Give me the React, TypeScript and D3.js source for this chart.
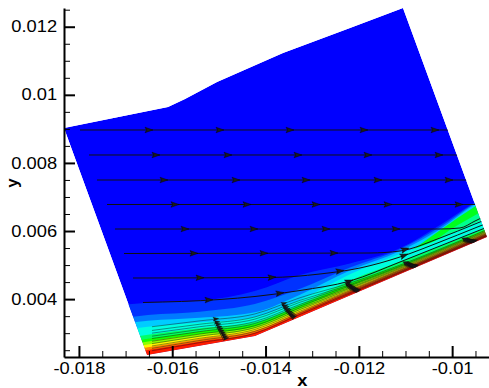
import React, { useEffect, useRef } from 'react';
import * as d3 from 'd3';

// axes
const xDomain = [-0.01832, -0.00921];
const yDomain = [0.0023, 0.01255];
const xMajorTicks = [-0.018, -0.016, -0.014, -0.012, -0.01];
const xTickLabels = ['-0.018', '-0.016', '-0.014', '-0.012', '-0.01'];
const yMajorTicks = [0.004, 0.006, 0.008, 0.01, 0.012];
const yTickLabels = ['0.004', '0.006', '0.008', '0.01', '0.012'];

// outline of the computed zone (top edge, right edge, wall, left edge)
const outlineX = [-0.01832, -0.016091, -0.015726, -0.01504, -0.013626, -0.01219, -0.011054, -0.009253, -0.014226, -0.01654];
const outlineY = [0.009026, 0.009643, 0.009877, 0.010377, 0.011228, 0.011963, 0.01255, 0.005824, 0.002917, 0.00236];

// wall
const wallX = [-0.01654, -0.014226, -0.009253];
const wallY = [0.00236, 0.002917, 0.005824];

// stations along the wall where the contour layers are read
const stationX = [-0.01733, -0.01652, -0.01541, -0.01423, -0.01326, -0.01219, -0.01112, -0.01026, -0.00951, -0.00897];

// contour level (0..1) and its height above the wall at each station, painted in order
const bandLevels = [0.05, 0.12, 0.2, 0.47, 0.36, 0.28, 0.4, 0.52, 0.64, 0.76, 0.87, 0.97];
const bandOffsets = [
  [0.00162, 0.00153, 0.00132, 0.00132, 0.00123, 0.00094, 0.00076, 0.00094, 0.00117, 0.00129],
  [0.00123, 0.00117, 0.001, 0.00094, 0.00082, 0.00082, 0.00073, 0.00088, 0.00115, 0.00126],
  [0.00106, 0.001, 0.00082, 0.0007, 0.00065, 0.00073, 0.00068, 0.00082, 0.00112, 0.00123],
  [0, 0, 0, 0, 0, 0, 0.00045, 0.00079, 0.00105, 0.00118],
  [0, 0, 0, 0, 0, 0, 0, 0.00059, 0.00079, 0.00088],
  [0.00088, 0.00082, 0.00068, 0.00056, 0.0005, 0.00062, 0.00059, 0.00053, 0.00056, 0.00056],
  [0.00062, 0.00059, 0.00051, 0.00041, 0.00037, 0.00044, 0.00037, 0.00032, 0.00029, 0.00029],
  [0.00048, 0.00047, 0.00042, 0.00035, 0.00032, 0.00035, 0.00027, 0.00024, 0.00024, 0.00024],
  [0.0004, 0.00039, 0.00034, 0.00028, 0.00026, 0.00027, 0.00022, 0.0002, 0.0002, 0.0002],
  [0.00031, 0.0003, 0.00027, 0.00022, 0.0002, 0.0002, 0.00017, 0.00016, 0.00016, 0.00016],
  [0.00023, 0.00022, 0.0002, 0.00016, 0.00015, 0.00015, 0.00013, 0.00012, 0.00012, 0.00012],
  [0.00014, 0.00014, 0.00012, 0.0001, 0.0001, 0.0001, 0.00008, 0.00008, 0.00008, 0.00008],
];

// straight streamlines in the free stream
const streamY = [0.008967, 0.008233, 0.007498, 0.006779];
const streamStartX = [-0.017977, -0.017784, -0.017613, -0.017398];
const streamArrowX = [
  [-0.016434, -0.014912, -0.013411, -0.011825, -0.010303],
  [-0.016284, -0.01474, -0.01324, -0.01174, -0.010218],
  [-0.016112, -0.014569, -0.013068, -0.011525, -0.010003],
  [-0.015876, -0.014333, -0.012854, -0.011311, -0.009789],
];

// streamlines that bend up over the ramp
const bentX = [
  [-0.017227, -0.01026, -0.009832, -0.00951, -0.008974],
  [-0.017034, -0.011761, -0.011118, -0.01026, -0.00951, -0.008974],
  [-0.016841, -0.013904, -0.012833, -0.011975, -0.011118, -0.01026, -0.00951, -0.008974],
  [-0.016627, -0.014976, -0.014226, -0.013261, -0.01219, -0.011118, -0.01026, -0.00951, -0.008974],
];
const bentY = [
  [0.006059, 0.006059, 0.006089, 0.006294, 0.006647],
  [0.00534, 0.005354, 0.005413, 0.005795, 0.006206, 0.0065],
  [0.00462, 0.004635, 0.004738, 0.004914, 0.005237, 0.005678, 0.006089, 0.006382],
  [0.003901, 0.003989, 0.004077, 0.004253, 0.004532, 0.00509, 0.00556, 0.005971, 0.006265],
];
const bentArrowX = [
  [-0.015662, -0.014183, -0.01264, -0.011139],
  [-0.015469, -0.013969, -0.012468, -0.010946],
  [-0.01534, -0.013797, -0.01234, -0.010967],
  [-0.015148, -0.013626, -0.012147],
];

// boundary-layer streamlines hugging the wall
const bundleStartX = -0.016434;
const bundleOffsets = [0.0001, 0.00017, 0.00024, 0.00031, 0.00038, 0.00046, 0.00053, 0.00062, 0.0007, 0.00081];
const bundleScale = [1, 1, 0.9, 0.8, 0.69, 0.45, 0.33, 0.29, 0.27, 0.27];
const bundleArrowX = [-0.015019, -0.013561, -0.01219, -0.010946, -0.009682];

const FONT = "'Liberation Sans', Arial, Helvetica, sans-serif";
const STRETCH = 'scale(1.145,1)';

const App = () => {
  const svgRef = useRef<SVGSVGElement>(null);

  useEffect(() => {
    const svg = d3.select(svgRef.current);
    svg.selectAll('*').remove();

    const x = d3.scaleLinear().domain(xDomain).range([64, 489]);
    const y = d3.scaleLinear().domain(yDomain).range([357, 8]);
    const wall = d3.scaleLinear().domain(wallX).range(wallY);
    const colour = d3.scaleLinear<string>()
      .domain([0, 0.25, 0.5, 0.75, 1])
      .range(['#0000ff', '#00ffff', '#00ff00', '#ffff00', '#ff0000']);

    const outline = d3.line<number>()
      .x(i => x(outlineX[i]))
      .y(i => y(outlineY[i]))(outlineX.map((_, i) => i)) + 'Z';

    const defs = svg.append('defs');
    defs.append('clipPath').attr('id', 'flow-clip')
      .append('path').attr('d', outline);
    defs.append('filter').attr('id', 'soft')
      .append('feGaussianBlur').attr('stdDeviation', 0.4);

    const flow = svg.append('g').attr('clip-path', 'url(#flow-clip)');
    flow.append('path').attr('d', outline).attr('fill', '#0000ff');

    // contour bands
    const bands = flow.append('g').attr('filter', 'url(#soft)');
    bandLevels.forEach((lev, k) => {
      const pts = stationX.map((sx, i) => ({ sx, off: bandOffsets[k][i] }));
      const area = d3.area<{ sx: number; off: number }>()
        .curve(d3.curveMonotoneX)
        .x(d => x(d.sx))
        .y0(d => y(wall(d.sx) - 0.0006))
        .y1(d => y(wall(d.sx) + d.off));
      bands.append('path').attr('d', area(pts)).attr('fill', colour(lev));
    });

    // streamlines
    const lines = flow.append('g').attr('fill', 'none').attr('stroke', '#111').attr('stroke-width', 1);
    const arrows = flow.append('g').attr('fill', '#1a1a1a').attr('stroke', '#000').attr('stroke-width', 0.4);
    const line = d3.line<[number, number]>().curve(d3.curveMonotoneX)
      .x(d => x(d[0])).y(d => y(d[1]));

    const arrow = (xv: number, fy: (v: number) => number, size = 1) => {
      const px = x(xv), py = y(fy(xv));
      const qx = x(xv + 2e-5), qy = y(fy(xv + 2e-5));
      const a = Math.atan2(qy - py, qx - px) * 180 / Math.PI;
      arrows.append('path')
        .attr('d', 'M-7,-2.8L1,0L-7,2.8L-5.5,0Z')
        .attr('transform', `translate(${px},${py}) rotate(${a}) scale(${size})`);
    };

    streamY.forEach((yv, i) => {
      lines.append('path').attr('d', line([[streamStartX[i], yv], [xDomain[1] + 0.001, yv]]));
      streamArrowX[i].forEach(ax => arrow(ax, () => yv));
    });

    bentX.forEach((xs, i) => {
      const pts = xs.map((xv, j) => [xv, bentY[i][j]] as [number, number]);
      lines.append('path').attr('d', line(pts));
      const fy = d3.scaleLinear().domain(xs).range(bentY[i]);
      bentArrowX[i].forEach(ax => arrow(ax, v => fy(v)));
    });

    const scaleAt = d3.scaleLinear().domain(stationX).range(bundleScale);
    const bundleX = [bundleStartX, ...stationX.filter(s => s > bundleStartX)];
    bundleOffsets.forEach((off, j) => {
      const fy = (v: number) => wall(v) + off * scaleAt(v);
      lines.append('path')
        .attr('stroke-width', 0.6)
        .attr('stroke-opacity', 0.75)
        .attr('d', line(bundleX.map(v => [v, fy(v)] as [number, number])));
      const lean = (bundleOffsets.length - 1 - j) * 2.4e-5;
      bundleArrowX.forEach(ax => arrow(ax + lean, fy, 0.7));
    });

    // axes
    const xMinor = d3.range(-0.018, -0.0092, 0.0005).filter(v => !xMajorTicks.some(t => Math.abs(t - v) < 1e-7));
    const yMinor = d3.range(0.0025, 0.0126, 0.0005).filter(v => !yMajorTicks.some(t => Math.abs(t - v) < 1e-7));

    const gx = svg.append('g').attr('transform', 'translate(0,357)');
    gx.append('g')
      .call(d3.axisBottom(x).tickValues(xMinor).tickSize(-6).tickSizeOuter(0).tickFormat(() => ''))
      .call(g => g.select('.domain').remove());
    gx.append('g')
      .call(d3.axisBottom(x).tickValues(xMajorTicks).tickSize(-11).tickSizeOuter(0).tickPadding(6)
        .tickFormat((_, i) => xTickLabels[i]))
      .attr('font-size', 16).attr('font-family', FONT)
      .call(g => g.selectAll('.tick line').attr('stroke-width', 2))
      .call(g => g.select('.domain').attr('stroke-width', 2))
      .call(g => g.selectAll('.tick text').attr('fill', '#000').attr('transform', STRETCH));

    const gy = svg.append('g').attr('transform', 'translate(64,0)');
    gy.append('g')
      .call(d3.axisLeft(y).tickValues(yMinor).tickSize(-6).tickSizeOuter(0).tickFormat(() => ''))
      .call(g => g.select('.domain').remove());
    gy.append('g')
      .call(d3.axisLeft(y).tickValues(yMajorTicks).tickSize(-11).tickSizeOuter(0).tickPadding(6)
        .tickFormat((_, i) => yTickLabels[i]))
      .attr('font-size', 16).attr('font-family', FONT)
      .call(g => g.selectAll('.tick line').attr('stroke-width', 2))
      .call(g => g.select('.domain').attr('stroke-width', 2))
      .call(g => g.selectAll('.tick text').attr('fill', '#000').attr('transform', STRETCH));

    // axis titles
    svg.append('g')
      .attr('transform', `translate(${(x(-0.01321))},385.5) ${STRETCH}`)
      .append('text')
      .attr('text-anchor', 'middle')
      .attr('font-family', FONT).attr('font-weight', 'bold').attr('font-size', 16)
      .text('x');

    svg.append('text')
      .attr('transform', 'translate(18,183) rotate(-90)')
      .attr('text-anchor', 'middle')
      .attr('font-family', FONT).attr('font-weight', 'bold').attr('font-size', 17)
      .text('y');
  }, []);

  return (
    <svg
      ref={svgRef}
      width={489}
      height={388}
      style={{ position: 'absolute', left: 0, top: 0, backgroundColor: 'white' }}
    ></svg>
  );
};

export default App;
